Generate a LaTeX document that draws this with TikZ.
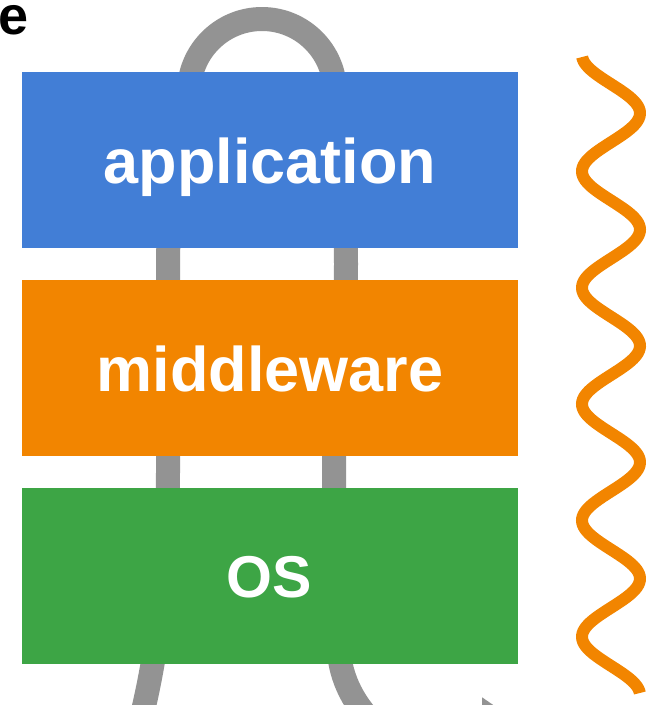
\documentclass[tikz,border=0pt]{standalone}
\usepackage{fontspec}
\setmainfont{Liberation Sans}
\usetikzlibrary{arrows.meta}
\definecolor{appblue}{HTML}{427ED6}
\definecolor{mwOrange}{HTML}{F28500}
\definecolor{osgreen}{HTML}{3DA545}
\definecolor{loopgray}{HTML}{939393}
\tikzset{
  layerbox/.style={draw=none, minimum width=496pt, minimum height=176pt, inner sep=0pt},
  layertext/.style={text=white, font=\bfseries\fontsize{63}{70}\selectfont, inner sep=0pt, anchor=base},
  looppath/.style={draw=loopgray, line width=24pt},
  wave/.style={draw=mwOrange, line width=12pt}
}
\begin{document}
\begin{tikzpicture}[x=1pt,y=-1pt]
\useasboundingbox (0,0) rectangle (654,705);
\clip (0,0) rectangle (654,705);
% grey loop behind the stack
\coordinate (loopstart) at (134,745);
\coordinate (loopend) at (530,730);
\draw[looppath, -{Triangle[length=48pt, width=62pt]}]
  (loopstart) .. controls (150,690) and (168,600) .. (168,472)
  -- (168,264)
  .. controls (168,180) and (189,180) .. (189,92)
  arc[start angle=180, end angle=360, radius=73]
  .. controls (335,180) and (346,180) .. (346,264)
  .. controls (346,360) and (334,380) .. (334,472)
  .. controls (334,560) and (334,640) .. (342,670)
  .. controls (350,700) and (370,725) .. (400,745)
  .. controls (430,765) and (470,730) .. (loopend);
% layers
\node[layerbox, fill=appblue] (app) at (270,160) {};
\node[layerbox, fill=mwOrange] (mw) at (270,368) {};
\node[layerbox, fill=osgreen] (os) at (270,576) {};
\node[layertext] (apptext) at (270,183) {application};
\node[layertext] (mwtext) at (270,391) {middleware};
\node[layertext, font=\bfseries\fontsize{59}{65}\selectfont] (ostext) at (269,597) {OS};
% partial label
\node[inner sep=0pt, anchor=base west, font=\bfseries\fontsize{54}{60}\selectfont] (lbl) at (-1.5,34) {e};
% orange wave
\draw[wave] plot[domain=57:693, samples=300] ({611-29*cos(3.0939*(\x-55))}, \x);
\end{tikzpicture}
\end{document}
